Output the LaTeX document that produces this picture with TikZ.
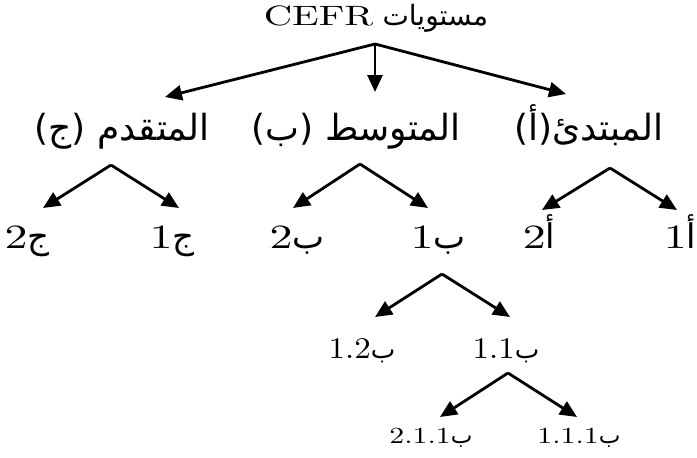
\documentclass[tikz,border=0pt]{standalone}
\usepackage{fontspec}
\usepackage{graphicx}
\usetikzlibrary{arrows.meta}
\setmainfont{lmroman10-regular.otf}
\newfontfamily\arabicfont[Script=Arabic]{DejaVu Sans}
\TeXXeTstate=1
\newcommand{\AR}[1]{{\arabicfont\beginR #1\endR}}
\newcommand{\WL}[2]{\scalebox{#1}[1]{#2}}
\begin{document}
\begin{tikzpicture}[x=1pt,y=-1pt,
  arr/.style={line width=2.8pt,-{Triangle[length=17pt,width=15pt]}},
  lbl/.style={anchor=base,inner sep=0pt},
  tsize/.style={font=\fontsize{28}{32}\selectfont},
  lone/.style={font=\fontsize{36}{42}\selectfont},
  ltwo/.style={font=\fontsize{34}{40}\selectfont},
  lthree/.style={font=\fontsize{30}{34}\selectfont},
  lfour/.style={font=\fontsize{23}{27}\selectfont}]
\useasboundingbox (0,0) rectangle (697,458);
% title
\node[lbl,tsize] (t) at (376,25) {\WL{1.4}{CEFR} \AR{مستويات}};
% level 1
\node[lbl,lone] (c) at (122,140) {\AR{(ج)} \AR{المتقدم}};
\node[lbl,lone] (b) at (356,140) {\AR{(ب)} \AR{المتوسط}};
\node[lbl,lone] (a) at (589,140) {\AR{(أ)}\AR{المبتدئ}};
% level 2
\node[lbl,ltwo] (c2) at (27,248) {\WL{1.35}{2}\AR{ج}};
\node[lbl,ltwo] (c1) at (172,248) {\WL{1.35}{1}\AR{ج}};
\node[lbl,ltwo] (b2) at (297,248) {\WL{1.35}{2}\AR{ب}};
\node[lbl,ltwo] (b1) at (438,248) {\WL{1.35}{1}\AR{ب}};
\node[lbl,ltwo] (a2) at (539,248) {\WL{1.35}{2}\AR{أ}};
\node[lbl,ltwo] (a1) at (680,248) {\WL{1.35}{1}\AR{أ}};
% level 3
\node[lbl,lthree] (b12) at (362,358) {\WL{1.1}{1.2}{\fontsize{26}{30}\selectfont\AR{ب}}};
\node[lbl,lthree] (b11) at (506,358) {\WL{1.1}{1.1}{\fontsize{26}{30}\selectfont\AR{ب}}};
% level 4
\node[lbl,lfour] (b112) at (431,443) {\WL{1.3}{2.1.1}\AR{ب}};
\node[lbl,lfour] (b111) at (579,443) {\WL{1.3}{1.1.1}\AR{ب}};
% branch points and arrow tips
\coordinate (tA) at (375,44);
\coordinate (cT) at (165,97);
\coordinate (bT) at (375,92);
\coordinate (aT) at (566,94);
\coordinate (cA) at (111,165);
\coordinate (c2T) at (43,208);
\coordinate (c1T) at (179,208);
\coordinate (bA) at (360,164);
\coordinate (b2T) at (293,208);
\coordinate (b1T) at (428,208);
\coordinate (aA) at (610,168);
\coordinate (a2T) at (542,210);
\coordinate (a1T) at (677,210);
\coordinate (b1A) at (442,274);
\coordinate (b12T) at (375,317);
\coordinate (b11T) at (510,317);
\coordinate (b11A) at (508,373);
\coordinate (b112T) at (440,417);
\coordinate (b111T) at (577,417);
% connectors
\draw[arr] (tA) -- (cT);
\draw[arr] (tA) -- (bT);
\draw[arr] (tA) -- (aT);
\draw[arr] (cA) -- (c2T);
\draw[arr] (cA) -- (c1T);
\draw[arr] (bA) -- (b2T);
\draw[arr] (bA) -- (b1T);
\draw[arr] (aA) -- (a2T);
\draw[arr] (aA) -- (a1T);
\draw[arr] (b1A) -- (b12T);
\draw[arr] (b1A) -- (b11T);
\draw[arr] (b11A) -- (b112T);
\draw[arr] (b11A) -- (b111T);
\end{tikzpicture}
\end{document}
